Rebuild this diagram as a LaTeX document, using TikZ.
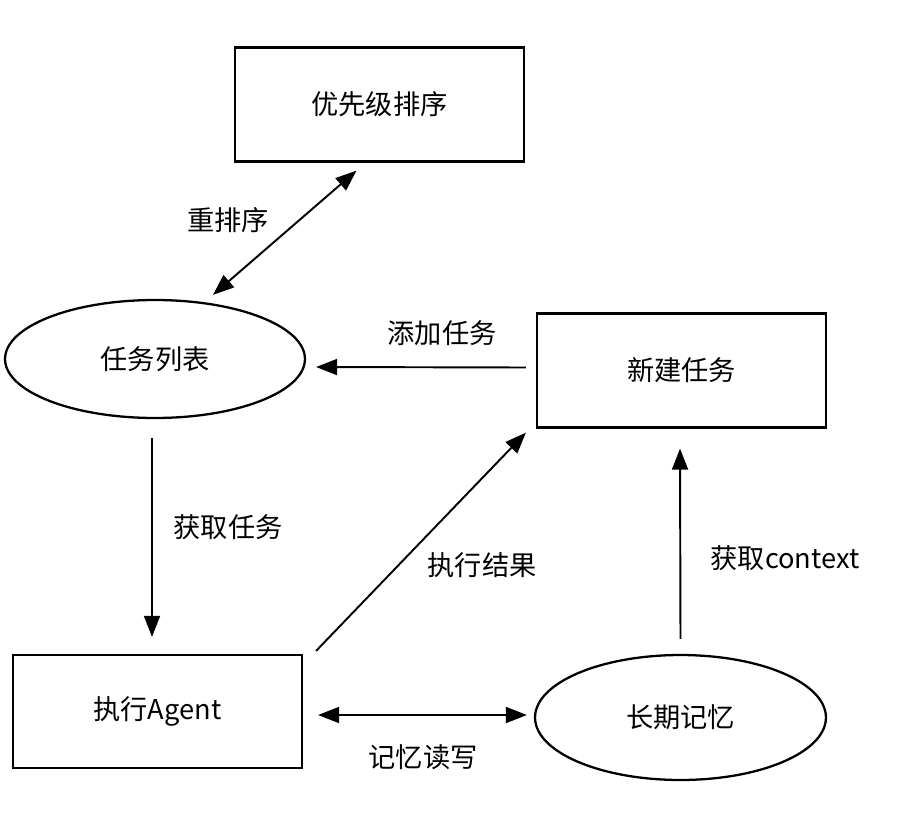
\documentclass[tikz,border=0pt]{standalone}
\usepackage{fontspec}
\setmainfont{Noto Sans CJK SC}
\usepackage{tikz}
\usetikzlibrary{arrows.meta, shapes.geometric, calc}

\tikzset{
  box/.style={draw, line width=1.3pt, rectangle, minimum width=5.78cm, minimum height=2.28cm, font=\fontsize{15.5}{18}\selectfont},
  oval/.style={draw, line width=1.3pt, ellipse, inner sep=0pt, font=\fontsize{15.5}{18}\selectfont},
  link/.style={line width=1.1pt, -{Triangle[length=4.2mm,width=3.2mm]}},
  both/.style={link, {Triangle[length=4.2mm,width=3.2mm]}-{Triangle[length=4.2mm,width=3.2mm]}},
  lbl/.style={font=\fontsize{15.5}{18}\selectfont}
}

\begin{document}
\begin{tikzpicture}[x=0.02cm, y=-0.02cm]
\useasboundingbox (0,0) rectangle (910,832);
%\draw[step=50,gray,very thin] (0,0) grid (910,832);
\node[box] (prio) at (379.5,104.5) {优先级排序};
\node[oval, minimum width=6cm, minimum height=2.36cm] (tasks) at (155,359) {任务列表};
\node[box] (newtask) at (681.5,370.5) {新建任务};
\node[box, minimum height=2.26cm] (agent) at (157.5,711.5) {执行Agent};
\node[oval, minimum width=5.82cm, minimum height=2.5cm] (memory) at (680.5,717.5) {长期记忆};

% connectors
\draw[both] ($(tasks.north)+(58,-4)$) -- ($(prio.south)+(-23,8)$);
\draw[link] ($(newtask.west)+(-10,-3)$) -- ($(tasks.east)+(10,8)$);
\draw[link] ($(tasks.south)+(-3,19)$) -- ($(agent.north)+(-5.5,-17)$);
\draw[link] ($(agent.north east)+(13,-3)$) -- ($(newtask.south west)+(-10,4)$);
\draw[link] ($(memory.north)+(0,-15)$) -- ($(newtask.south)+(-1.5,20)$);
\draw[both] ($(agent.east)+(15,3.5)$) -- ($(memory.west)+(-7,-2.5)$);

\node[lbl] (l1) at (228,220) {重排序};
\node[lbl] (l2) at (442,333) {添加任务};
\node[lbl] (l3) at (228,527) {获取任务};
\node[lbl] (l4) at (482,565) {执行结果};
\node[lbl] (l5) at (785,558) {获取context};
\node[lbl] (l6) at (423,757) {记忆读写};
\end{tikzpicture}
\end{document}
